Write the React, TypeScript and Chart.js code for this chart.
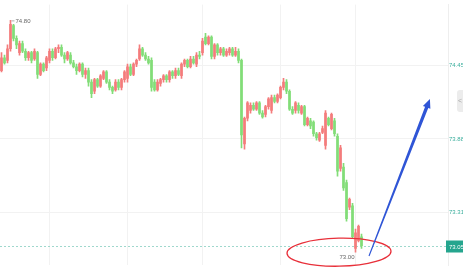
import React, { useEffect, useRef } from 'react';
import { Chart, registerables } from 'chart.js';
Chart.register(...registerables);

const openP = [
  74.41, 74.51, 74.49, 74.58, 74.76, 74.66, 74.55, 74.62, 74.56, 74.51,
  74.55, 74.50, 74.55, 74.38, 74.46, 74.43, 74.49, 74.56, 74.51, 74.58,
  74.59, 74.53, 74.50, 74.53, 74.47, 74.44, 74.41, 74.46, 74.38, 74.41,
  74.32, 74.25, 74.34, 74.29, 74.35, 74.40, 74.32, 74.28, 74.26, 74.32,
  74.28, 74.34, 74.35, 74.44, 74.38, 74.46, 74.50, 74.58, 74.53, 74.50,
  74.49, 74.32, 74.26, 74.31, 74.34, 74.37, 74.34, 74.40, 74.37, 74.41,
  74.37, 74.46, 74.49, 74.44, 74.50, 74.46, 74.53, 74.55, 74.67, 74.62,
  74.67, 74.52, 74.61, 74.55, 74.58, 74.53, 74.55, 74.58, 74.53, 74.56,
  74.49, 73.84, 74.04, 74.10, 74.14, 74.11, 74.16, 74.08, 74.07, 74.13,
  74.10, 74.20, 74.17, 74.20, 74.28, 74.32, 74.25, 74.11, 74.10, 74.14,
  74.08, 74.13, 73.99, 74.02, 74.01, 73.92, 73.87, 73.93, 73.83, 74.04,
  73.96, 74.02, 73.90, 73.65, 73.66, 73.54, 73.35, 73.36, 73.03, 73.09,
  73.12,
];
const highP = [
  74.55, 74.53, 74.61, 74.80, 74.77, 74.68, 74.64, 74.64, 74.58, 74.56,
  74.56, 74.58, 74.56, 74.47, 74.47, 74.52, 74.58, 74.58, 74.59, 74.61,
  74.61, 74.55, 74.56, 74.55, 74.49, 74.46, 74.47, 74.47, 74.43, 74.43,
  74.34, 74.35, 74.35, 74.38, 74.41, 74.41, 74.34, 74.29, 74.34, 74.34,
  74.35, 74.41, 74.46, 74.46, 74.47, 74.50, 74.61, 74.59, 74.55, 74.52,
  74.51, 74.34, 74.34, 74.35, 74.38, 74.38, 74.41, 74.41, 74.43, 74.43,
  74.47, 74.50, 74.50, 74.52, 74.52, 74.55, 74.56, 74.66, 74.70, 74.68,
  74.68, 74.62, 74.62, 74.59, 74.59, 74.58, 74.59, 74.59, 74.59, 74.58,
  74.50, 74.05, 74.17, 74.16, 74.16, 74.17, 74.17, 74.10, 74.14, 74.20,
  74.22, 74.22, 74.23, 74.29, 74.35, 74.34, 74.26, 74.13, 74.17, 74.16,
  74.14, 74.14, 74.05, 74.04, 74.02, 73.93, 73.93, 73.98, 74.10, 74.05,
  74.08, 74.04, 73.92, 73.83, 73.69, 73.56, 73.42, 73.38, 73.18, 73.21,
  73.14,
];
const lowP = [
  74.40, 74.46, 74.47, 74.56, 74.64, 74.58, 74.53, 74.55, 74.49, 74.49,
  74.47, 74.49, 74.35, 74.37, 74.40, 74.41, 74.47, 74.49, 74.50, 74.55,
  74.52, 74.47, 74.49, 74.46, 74.43, 74.38, 74.40, 74.36, 74.35, 74.29,
  74.20, 74.23, 74.28, 74.28, 74.34, 74.31, 74.26, 74.23, 74.25, 74.26,
  74.26, 74.32, 74.32, 74.37, 74.37, 74.44, 74.49, 74.52, 74.49, 74.46,
  74.25, 74.25, 74.25, 74.29, 74.32, 74.32, 74.32, 74.35, 74.35, 74.37,
  74.35, 74.44, 74.43, 74.43, 74.46, 74.44, 74.50, 74.53, 74.61, 74.61,
  74.50, 74.50, 74.53, 74.53, 74.52, 74.52, 74.53, 74.52, 74.52, 74.47,
  73.81, 73.80, 74.02, 74.08, 74.10, 74.10, 74.07, 74.04, 74.05, 74.11,
  74.08, 74.16, 74.16, 74.19, 74.26, 74.23, 74.10, 74.07, 74.08, 74.08,
  74.07, 73.98, 73.98, 73.96, 73.90, 73.87, 73.86, 73.92, 73.80, 73.98,
  73.95, 73.90, 73.59, 73.63, 73.48, 73.24, 73.33, 73.11, 73.00, 73.08,
  73.03,
];
const closeP = [
  74.51, 74.47, 74.58, 74.77, 74.66, 74.61, 74.62, 74.56, 74.51, 74.55,
  74.49, 74.56, 74.38, 74.46, 74.41, 74.51, 74.56, 74.51, 74.58, 74.59,
  74.53, 74.50, 74.55, 74.47, 74.44, 74.41, 74.46, 74.38, 74.41, 74.32,
  74.23, 74.34, 74.29, 74.37, 74.40, 74.32, 74.28, 74.25, 74.32, 74.28,
  74.34, 74.40, 74.44, 74.38, 74.46, 74.49, 74.58, 74.53, 74.50, 74.47,
  74.28, 74.26, 74.32, 74.34, 74.37, 74.34, 74.40, 74.37, 74.41, 74.38,
  74.46, 74.49, 74.44, 74.50, 74.47, 74.53, 74.52, 74.64, 74.62, 74.67,
  74.52, 74.61, 74.55, 74.58, 74.53, 74.56, 74.58, 74.53, 74.56, 74.49,
  73.91, 74.04, 74.16, 74.14, 74.11, 74.16, 74.08, 74.05, 74.13, 74.19,
  74.20, 74.17, 74.22, 74.28, 74.32, 74.25, 74.11, 74.08, 74.16, 74.10,
  74.13, 73.99, 74.04, 73.98, 73.92, 73.89, 73.92, 73.96, 74.08, 73.99,
  74.07, 73.92, 73.63, 73.81, 73.50, 73.26, 73.41, 73.12, 73.15, 73.20,
  73.05,
];

const yTickValues = [74.45, 73.88, 73.31];
const xGridIndex = [16, 42, 67, 93, 118];

// hand-drawn annotations, in data coordinates (index, price)
const ellipseCenter = [112.5, 73.0];
const arrowFrom = [122.5, 72.97];
const arrowTo = [142.8, 74.19];

const UP = '#f47c7c';
const DOWN = '#82dd78';
const FONT = 'Arial, "Liberation Sans", sans-serif';

const overlayPlugin = {
  id: 'overlay',
  beforeDatasetsDraw(chart: any) {
    const { ctx, scales, chartArea } = chart;
    const last = closeP[closeP.length - 1];
    const py = Math.round(scales.y.getPixelForValue(last)) + 0.5;
    ctx.save();
    ctx.strokeStyle = '#9fd8cd';
    ctx.lineWidth = 1;
    ctx.setLineDash([2, 2]);
    ctx.beginPath();
    ctx.moveTo(chartArea.left, py);
    ctx.lineTo(chartArea.right, py);
    ctx.stroke();
    ctx.restore();
  },
  afterDraw(chart: any) {
    const { ctx, scales, chartArea } = chart;
    const x = scales.x;
    const y = scales.y;
    ctx.save();
    // high / low labels
    let hi = 0, lo = 0;
    highP.forEach((v, i) => { if (v > highP[hi]) hi = i; });
    lowP.forEach((v, i) => { if (v < lowP[lo]) lo = i; });
    ctx.font = `6px ${FONT}`;
    ctx.fillStyle = '#666';
    ctx.strokeStyle = '#999';
    ctx.lineWidth = 0.8;
    const hx = x.getPixelForValue(hi);
    const hy = y.getPixelForValue(highP[hi]);
    ctx.beginPath();
    ctx.moveTo(hx + 1, hy + 0.5);
    ctx.lineTo(hx + 4, hy + 0.5);
    ctx.stroke();
    ctx.textAlign = 'left';
    ctx.textBaseline = 'middle';
    ctx.fillText(highP[hi].toFixed(2), hx + 5, hy + 1);
    const lx = x.getPixelForValue(lo);
    const ly = y.getPixelForValue(lowP[lo]);
    ctx.textAlign = 'right';
    ctx.fillText(lowP[lo].toFixed(2), lx - 1, ly + 5);

    // current price label
    const last = closeP[closeP.length - 1];
    const py = Math.round(y.getPixelForValue(last)) + 0.5;
    ctx.fillStyle = '#25a58e';
    ctx.fillRect(chartArea.right - 2, py - 6, chart.width - chartArea.right + 2, 12);
    ctx.fillStyle = '#fff';
    ctx.textAlign = 'left';
    ctx.fillText(last.toFixed(2), chartArea.right + 1, py + 0.5);

    // side tab
    ctx.fillStyle = '#ececec';
    ctx.beginPath();
    (ctx as any).roundRect(chart.width - 6, 90, 10, 22, 3);
    ctx.fill();
    ctx.fillStyle = '#aaa';
    ctx.font = `7px ${FONT}`;
    ctx.fillText('<', chart.width - 5, 101);

    // red ellipse
    const ex = x.getPixelForValue(ellipseCenter[0]);
    const ey = y.getPixelForValue(ellipseCenter[1]);
    ctx.strokeStyle = '#e8303a';
    ctx.lineWidth = 1.3;
    ctx.beginPath();
    ctx.ellipse(ex, ey, 52, 14, -0.02, 0, Math.PI * 2);
    ctx.stroke();

    // blue arrow
    const ax0 = x.getPixelForValue(arrowFrom[0]);
    const ay0 = y.getPixelForValue(arrowFrom[1]);
    const ax1 = x.getPixelForValue(arrowTo[0]);
    const ay1 = y.getPixelForValue(arrowTo[1]);
    const dx = ax1 - ax0, dy = ay1 - ay0;
    const len = Math.hypot(dx, dy);
    const ux = dx / len, uy = dy / len;
    const nx = -uy, ny = ux;
    const headLen = 9, headW = 8, w0 = 1.1, w1 = 3.4;
    const bx = ax1 - ux * headLen, by = ay1 - uy * headLen;
    ctx.fillStyle = '#2f55d6';
    ctx.beginPath();
    ctx.moveTo(ax0 + nx * w0 / 2, ay0 + ny * w0 / 2);
    ctx.lineTo(bx + nx * w1 / 2, by + ny * w1 / 2);
    ctx.lineTo(bx + nx * headW / 2, by + ny * headW / 2);
    ctx.lineTo(ax1, ay1);
    ctx.lineTo(bx - nx * headW / 2, by - ny * headW / 2);
    ctx.lineTo(bx - nx * w1 / 2, by - ny * w1 / 2);
    ctx.lineTo(ax0 - nx * w0 / 2, ay0 - ny * w0 / 2);
    ctx.closePath();
    ctx.fill();
    ctx.restore();
  },
};

export default function App() {
  const ref = useRef<HTMLCanvasElement | null>(null);
  useEffect(() => {
    document.body.style.margin = '0';
    const colors = closeP.map((c, i) => (c >= openP[i] ? UP : DOWN));
    const chart = new Chart(ref.current as HTMLCanvasElement, {
      type: 'bar',
      data: {
        datasets: [
          {
            data: closeP.map((_, i) => ({ x: i, y: [lowP[i], highP[i]] })) as any,
            backgroundColor: colors,
            barThickness: 1,
            grouped: false,
            borderWidth: 0,
          } as any,
          {
            data: closeP.map((c, i) => ({ x: i, y: [openP[i], c] })) as any,
            backgroundColor: colors,
            barThickness: 2,
            grouped: false,
            borderWidth: 0,
            minBarLength: 1,
          } as any,
        ],
      },
      options: {
        responsive: false,
        animation: false,
        layout: { padding: 0 },
        plugins: { legend: { display: false }, tooltip: { enabled: false } },
        scales: {
          x: {
            type: 'linear',
            min: -0.5,
            max: 148.83,
            offset: false,
            afterBuildTicks: (s: any) => { s.ticks = xGridIndex.map((v) => ({ value: v })); },
            afterFit: (s: any) => { s.height = 0; },
            ticks: { display: false },
            grid: { color: '#f2f2f2', drawTicks: false, offset: false },
            border: { display: false },
          },
          y: {
            position: 'right',
            min: 72.8975,
            max: 74.9225,
            afterBuildTicks: (s: any) => { s.ticks = yTickValues.map((v) => ({ value: v })); },
            afterFit: (s: any) => { s.width = 15; },
            ticks: {
              font: { size: 6, family: FONT },
              color: '#3aae9c',
              padding: 1,
              callback: (v: any) => Number(v).toFixed(2),
            },
            grid: { color: '#f2f2f2', drawTicks: false },
            border: { color: '#eeeeee' },
          },
        } as any,
      },
      plugins: [overlayPlugin],
    });
    return () => chart.destroy();
  }, []);
  return (
    <div style={{ position: 'fixed', left: 0, top: 0, width: 463, height: 270, background: '#fff' }}>
      <canvas ref={ref} width={463} height={270} />
    </div>
  );
}
